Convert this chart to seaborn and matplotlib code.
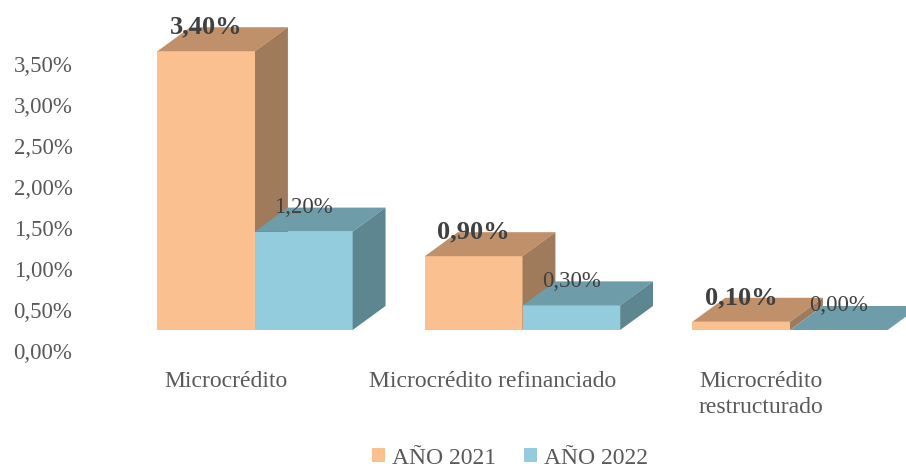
import numpy as np
import pandas as pd
import seaborn as sns
import matplotlib.pyplot as plt
from matplotlib.patches import Polygon, Patch

# Datos
categorias = ["Microcrédito", "Microcrédito refinanciado", "Microcrédito\nrestructurado"]
anios = ["AÑO 2021", "AÑO 2022"]
valores_2021 = [3.40, 0.90, 0.10]
valores_2022 = [1.20, 0.30, 0.00]
ticks_y = [0.0, 0.5, 1.0, 1.5, 2.0, 2.5, 3.0, 3.5]

df = pd.DataFrame({
    "categoria": categorias * 2,
    "anio": [anios[0]] * 3 + [anios[1]] * 3,
    "valor": valores_2021 + valores_2022,
})

# colores: frente, techo, lateral
colores = {
    "AÑO 2021": ("#FAC090", "#C0906A", "#9F7A5B"),
    "AÑO 2022": ("#93CDDD", "#6E9DA9", "#5E8690"),
}

piso = 0.256  # el piso 3D de Excel queda levantado
prof_x, prof_y = 0.123, 0.293  # profundidad de las barras

sns.set_style("white")
plt.rcParams["font.family"] = ["Liberation Serif", "DejaVu Serif"]

fig = plt.figure(figsize=(9.06, 4.70), dpi=100)
ax = fig.add_axes([85 / 906, 110 / 470, 1 - 85 / 906, 340 / 470])

sns.barplot(
    data=df, x="categoria", y="valor", hue="anio",
    order=categorias, hue_order=anios,
    palette=[colores[a][0] for a in anios],
    width=0.73, saturation=1, linewidth=0, legend=False, ax=ax,
)

# Caras superior y lateral de cada barra
for k, anio in enumerate(anios):
    frente, techo, lado = colores[anio]
    vals = df.loc[df["anio"] == anio, "valor"].tolist()
    for p, v in zip(ax.containers[k], vals):
        p.set_y(piso)
        p.set_zorder(2 + k)
        x0, w, h = p.get_x(), p.get_width(), p.get_height()
        y1 = piso + h
        top = Polygon(
            [(x0, y1), (x0 + w, y1), (x0 + w + prof_x, y1 + prof_y), (x0 + prof_x, y1 + prof_y)],
            closed=True, fc=techo, ec="none", zorder=2 + k,
        )
        side = Polygon(
            [(x0 + w, piso), (x0 + w + prof_x, piso + prof_y),
             (x0 + w + prof_x, y1 + prof_y), (x0 + w, y1)],
            closed=True, fc=lado, ec="none", zorder=2 + k,
        )
        ax.add_patch(top)
        ax.add_patch(side)
        ax.text(
            x0 + w / 2, y1 + prof_y, f"{v:.2f}%".replace(".", ","),
            ha="center", va="center", zorder=10, clip_on=False,
            fontsize=19 if k == 0 else 16.5,
            fontweight="bold" if k == 0 else "normal",
            color="#404040",
        )

ax.set_xlim(-0.6355, 2.4336)
ax.set_ylim(-0.11, 4.037)
ax.set_yticks(ticks_y, [f"{t:.2f}%".replace(".", ",") for t in ticks_y])
ax.set_xticks(np.arange(len(categorias)) - 0.11, categorias)
ax.tick_params(axis="y", length=0, pad=9, labelsize=16.5, labelcolor="#595959")
ax.tick_params(axis="x", length=0, pad=8, labelsize=17, labelcolor="#595959")
for t in ax.get_xticklabels():
    t.set_linespacing(1.3)
ax.set_xlabel("")
ax.set_ylabel("")
sns.despine(ax=ax, left=True, bottom=True)

handles = [Patch(fc=colores[a][0], ec="none") for a in anios]
fig.legend(
    handles, anios, loc="center", bbox_to_anchor=(510 / 906, 1 - 458 / 470),
    ncol=2, frameon=False, fontsize=17, labelcolor="#595959",
    handlelength=0.55, handleheight=0.55, handletextpad=0.3, columnspacing=1.2,
    borderpad=0.2,
)

fig.savefig("out.png", dpi=100)
